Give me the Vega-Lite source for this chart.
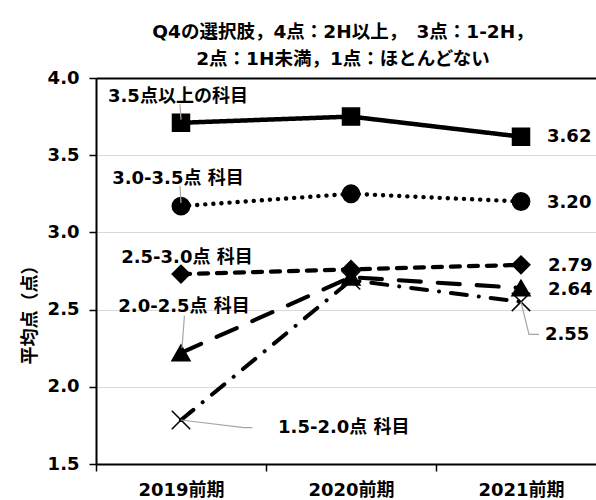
{
  "$schema": "https://vega.github.io/schema/vega-lite/v6.json",
  "width": 510,
  "height": 386,
  "autosize": {"type": "none"},
  "padding": {"left": 96, "top": 78, "right": 0, "bottom": 36},
  "title": {
    "text": ["Q4の選択肢，4点：2H以上，　3点：1-2H，", "2点：1H未満，1点：ほとんどない"],
    "font": "DejaVu Sans, Noto Sans CJK JP",
    "fontSize": 18.5,
    "fontWeight": "bold",
    "color": "black",
    "lineHeight": 27,
    "offset": 1,
    "dx": -8,
    "anchor": "middle"
  },
  "datasets": {
    "series": [
      {"series": "3.5点以上の科目", "t": 1, "score": 3.71},
      {"series": "3.5点以上の科目", "t": 2, "score": 3.75},
      {"series": "3.5点以上の科目", "t": 3, "score": 3.62},
      {"series": "3.0-3.5点 科目", "t": 1, "score": 3.17},
      {"series": "3.0-3.5点 科目", "t": 2, "score": 3.25},
      {"series": "3.0-3.5点 科目", "t": 3, "score": 3.20},
      {"series": "2.5-3.0点 科目", "t": 1, "score": 2.73},
      {"series": "2.5-3.0点 科目", "t": 2, "score": 2.76},
      {"series": "2.5-3.0点 科目", "t": 3, "score": 2.79},
      {"series": "2.0-2.5点 科目", "t": 1, "score": 2.22},
      {"series": "2.0-2.5点 科目", "t": 2, "score": 2.71},
      {"series": "2.0-2.5点 科目", "t": 3, "score": 2.64},
      {"series": "1.5-2.0点 科目", "t": 1, "score": 1.785},
      {"series": "1.5-2.0点 科目", "t": 2, "score": 2.69},
      {"series": "1.5-2.0点 科目", "t": 3, "score": 2.55}
    ],
    "labels": [
      {"label": "3.5点以上の科目", "side": "left", "x": 0.982, "y": 3.877},
      {"label": "3.0-3.5点  科目", "side": "left", "x": 0.982, "y": 3.346},
      {"label": "2.5-3.0点  科目", "side": "left", "x": 1.035, "y": 2.834},
      {"label": "2.0-2.5点  科目", "side": "left", "x": 1.018, "y": 2.517},
      {"label": "1.5-2.0点  科目", "side": "right", "x": 1.571, "y": 1.733},
      {"label": "3.62", "side": "right", "x": 3.153, "y": 3.618},
      {"label": "3.20", "side": "right", "x": 3.153, "y": 3.191},
      {"label": "2.79", "side": "right", "x": 3.159, "y": 2.782},
      {"label": "2.64", "side": "right", "x": 3.159, "y": 2.627},
      {"label": "2.55", "side": "right", "x": 3.141, "y": 2.336}
    ],
    "leaders": [
      {"id": "a", "x": 3.0, "y": 2.55},
      {"id": "a", "x": 3.047, "y": 2.34},
      {"id": "a", "x": 3.106, "y": 2.34},
      {"id": "b", "x": 1.0, "y": 1.785},
      {"id": "b", "x": 1.37, "y": 1.735},
      {"id": "b", "x": 1.42, "y": 1.735},
      {"id": "c", "x": 1.006, "y": 2.25},
      {"id": "c", "x": 1.02, "y": 2.46},
      {"id": "d", "x": 0.994, "y": 3.83},
      {"id": "d", "x": 1.0, "y": 3.73},
      {"id": "e", "x": 0.994, "y": 3.3},
      {"id": "e", "x": 1.0, "y": 3.19}
    ]
  },
  "layer": [
    {
      "data": {"name": "series"},
      "mark": {"type": "line", "color": "black", "strokeCap": "round"},
      "encoding": {
        "x": {
          "field": "t",
          "type": "quantitative",
          "scale": {"domain": [0.5, 3.5], "nice": false, "zero": false},
          "axis": {
            "values": [0.5, 1, 1.5, 2, 2.5, 3, 3.5],
            "labelExpr": "datum.value === 1 ? '2019前期' : datum.value === 2 ? '2020前期' : datum.value === 3 ? '2021前期' : ''",
            "tickColor": {"condition": {"test": "datum.value % 1 === 0", "value": "transparent"}, "value": "black"},
            "grid": false,
            "title": null,
            "tickSize": 7,
            "tickWidth": 1.5,
            "labelPadding": 10,
            "labelOverlap": false,
            "labelFlush": false,
            "domainColor": "black",
            "domainWidth": 2,
            "labelFont": "DejaVu Sans, Noto Sans CJK JP",
            "labelFontSize": 18,
            "labelFontWeight": "bold",
            "labelColor": "black"
          }
        },
        "y": {
          "field": "score",
          "type": "quantitative",
          "scale": {"domain": [1.5, 4], "nice": false, "zero": false},
          "axis": {
            "values": [1.5, 2, 2.5, 3, 3.5, 4],
            "format": ".1f",
            "title": "平均点（点）",
            "titleFont": "Noto Sans CJK JP",
            "titleFontSize": 18,
            "titleFontWeight": "bold",
            "titleColor": "black",
            "titleAngle": -90,
            "titleX": -66,
            "titleY": 232,
            "titleAlign": "center",
            "titleBaseline": "middle",
            "tickSize": 7,
            "tickWidth": 1.5,
            "tickColor": "black",
            "labelPadding": 10,
            "domainColor": "black",
            "domainWidth": 2,
            "gridColor": {"condition": {"test": "datum.value === 4", "value": "black"}, "value": "#d9d9d9"},
            "gridWidth": {"condition": {"test": "datum.value === 4", "value": 2}, "value": 1},
            "labelFont": "DejaVu Sans, Noto Sans CJK JP",
            "labelFontSize": 18,
            "labelFontWeight": "bold",
            "labelColor": "black",
            "labelOverlap": false
          }
        },
        "strokeDash": {
          "field": "series",
          "type": "nominal",
          "scale": {
            "domain": ["3.5点以上の科目", "3.0-3.5点 科目", "2.5-3.0点 科目", "2.0-2.5点 科目", "1.5-2.0点 科目"],
            "range": [[1, 0], [0.1, 8], [9, 9], [22, 17], [16, 12, 0.1, 12]]
          },
          "legend": null
        },
        "strokeWidth": {
          "field": "series",
          "type": "nominal",
          "scale": {
            "domain": ["3.5点以上の科目", "3.0-3.5点 科目", "2.5-3.0点 科目", "2.0-2.5点 科目", "1.5-2.0点 科目"],
            "range": [4.5, 4, 4, 5, 4]
          },
          "legend": null
        }
      }
    },
    {
      "data": {"name": "series"},
      "mark": {"type": "point", "filled": true, "color": "black", "stroke": "black", "strokeWidth": 1.5, "opacity": 1},
      "encoding": {
        "x": {"field": "t", "type": "quantitative"},
        "y": {"field": "score", "type": "quantitative"},
        "shape": {
          "field": "series",
          "type": "nominal",
          "scale": {
            "domain": ["3.5点以上の科目", "3.0-3.5点 科目", "2.5-3.0点 科目", "2.0-2.5点 科目", "1.5-2.0点 科目"],
            "range": ["square", "circle", "diamond", "triangle-up", "M-1,-1L1,1M-1,1L1,-1"]
          },
          "legend": null
        },
        "size": {
          "field": "series",
          "type": "nominal",
          "scale": {
            "domain": ["3.5点以上の科目", "3.0-3.5点 科目", "2.5-3.0点 科目", "2.0-2.5点 科目", "1.5-2.0点 科目"],
            "range": [289, 340, 200, 280, 484]
          },
          "legend": null
        }
      }
    },
    {
      "data": {"name": "leaders"},
      "mark": {"type": "line", "color": "#a6a6a6", "strokeWidth": 1.2},
      "encoding": {
        "x": {"field": "x", "type": "quantitative"},
        "y": {"field": "y", "type": "quantitative"},
        "detail": {"field": "id", "type": "nominal"}
      }
    },
    {
      "data": {"name": "labels"},
      "transform": [{"filter": {"field": "side", "equal": "left"}}],
      "mark": {"type": "text", "align": "center", "baseline": "middle", "font": "DejaVu Sans, Noto Sans CJK JP", "fontSize": 18, "fontWeight": "bold", "color": "black"},
      "encoding": {
        "x": {"field": "x", "type": "quantitative"},
        "y": {"field": "y", "type": "quantitative"},
        "text": {"field": "label", "type": "nominal"}
      }
    },
    {
      "data": {"name": "labels"},
      "transform": [{"filter": {"field": "side", "equal": "right"}}],
      "mark": {"type": "text", "align": "left", "baseline": "middle", "font": "DejaVu Sans, Noto Sans CJK JP", "fontSize": 18, "fontWeight": "bold", "color": "black"},
      "encoding": {
        "x": {"field": "x", "type": "quantitative"},
        "y": {"field": "y", "type": "quantitative"},
        "text": {"field": "label", "type": "nominal"}
      }
    }
  ],
  "config": {
    "view": {"stroke": null},
    "background": "white"
  }
}
